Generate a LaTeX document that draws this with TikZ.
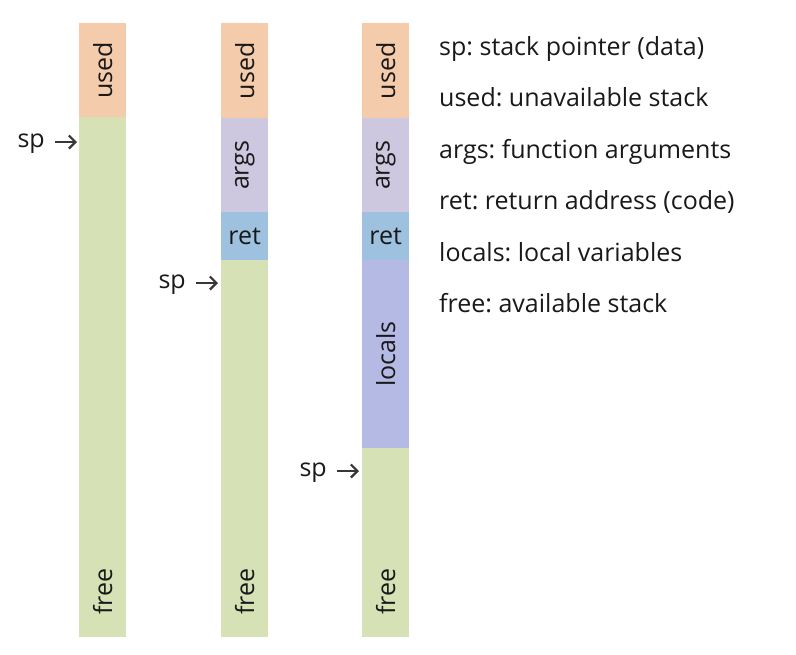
\documentclass[tikz,border=0pt]{standalone}
\usepackage{fontspec}
\setmainfont{Open Sans}
\usetikzlibrary{arrows.meta}
\frenchspacing
\definecolor{usedc}{RGB}{245,204,171}
\definecolor{freec}{RGB}{214,225,181}
\definecolor{argsc}{RGB}{206,199,224}
\definecolor{retc}{RGB}{157,193,223}
\definecolor{localsc}{RGB}{181,186,228}
\definecolor{txt}{RGB}{25,25,25}
\definecolor{arr}{RGB}{55,55,55}
\tikzset{
  seg/.style={draw=none, inner sep=0pt, anchor=north west, minimum width=47pt},
  vlab/.style={rotate=90, text=txt, font=\fontsize{25}{29}\selectfont, inner sep=0pt},
  hlab/.style={text=txt, font=\fontsize{25}{29}\selectfont, inner sep=0pt},
  leg/.style={text=txt, font=\fontsize{25}{29}\selectfont, anchor=base west, inner sep=0pt},
  sparrow/.style={draw=arr, line width=2.2pt, -{Straight Barb[length=6.5pt,width=13pt]}},
}
\begin{document}
\begin{tikzpicture}[x=1pt,y=-1pt]
\useasboundingbox (0,0) rectangle (796,654);
% column 1
\node[seg, fill=usedc, minimum height=94pt] (u1) at (79,23) {};
\node[seg, fill=freec, minimum height=520pt] (f1) at (79,117) {};
\node[vlab] at (u1.center) {used};
\node[vlab] at ([yshift=46pt]f1.south) {free};
% column 2
\node[seg, fill=usedc, minimum height=95pt] (u2) at (221,23) {};
\node[seg, fill=argsc, minimum height=94pt] (a2) at (221,118) {};
\node[seg, fill=retc, minimum height=48pt] (r2) at (221,212) {};
\node[seg, fill=freec, minimum height=377pt] (f2) at (221,260) {};
\node[vlab] at (u2.center) {used};
\node[vlab] at (a2.center) {args};
\node[hlab] at (r2.center) {ret};
\node[vlab] at ([yshift=46pt]f2.south) {free};
% column 3
\node[seg, fill=usedc, minimum height=95pt] (u3) at (362,23) {};
\node[seg, fill=argsc, minimum height=94pt] (a3) at (362,118) {};
\node[seg, fill=retc, minimum height=48pt] (r3) at (362,212) {};
\node[seg, fill=localsc, minimum height=188pt] (l3) at (362,260) {};
\node[seg, fill=freec, minimum height=189pt] (f3) at (362,448) {};
\node[vlab] at (u3.center) {used};
\node[vlab] at (a3.center) {args};
\node[hlab] at (r3.center) {ret};
\node[vlab] at (l3.center) {locals};
\node[vlab] at ([yshift=46pt]f3.south) {free};
% sp markers
\node[hlab, anchor=base east] (sp1) at (45,147) {sp};
\coordinate (s1) at (55,142);
\coordinate (t1) at (77,142);
\draw[sparrow] (s1) -- (t1);
\node[hlab, anchor=base east] (sp2) at (186,288) {sp};
\coordinate (s2) at (196,283);
\coordinate (t2) at (218,283);
\draw[sparrow] (s2) -- (t2);
\node[hlab, anchor=base east] (sp3) at (327,476) {sp};
\coordinate (s3) at (337,471);
\coordinate (t3) at (359,471);
\draw[sparrow] (s3) -- (t3);
% legend
\node[leg] (l1) at (439,55) {sp: stack pointer (data)};
\node[leg] (l2) at (439,106) {used: unavailable stack};
\node[leg] (l3) at (439,158) {args: function arguments};
\node[leg] (l4) at (439,209) {ret: return address (code)};
\node[leg] (l5) at (439,261) {locals: local variables};
\node[leg] (l6) at (439,312) {free: available stack};
\end{tikzpicture}
\end{document}
